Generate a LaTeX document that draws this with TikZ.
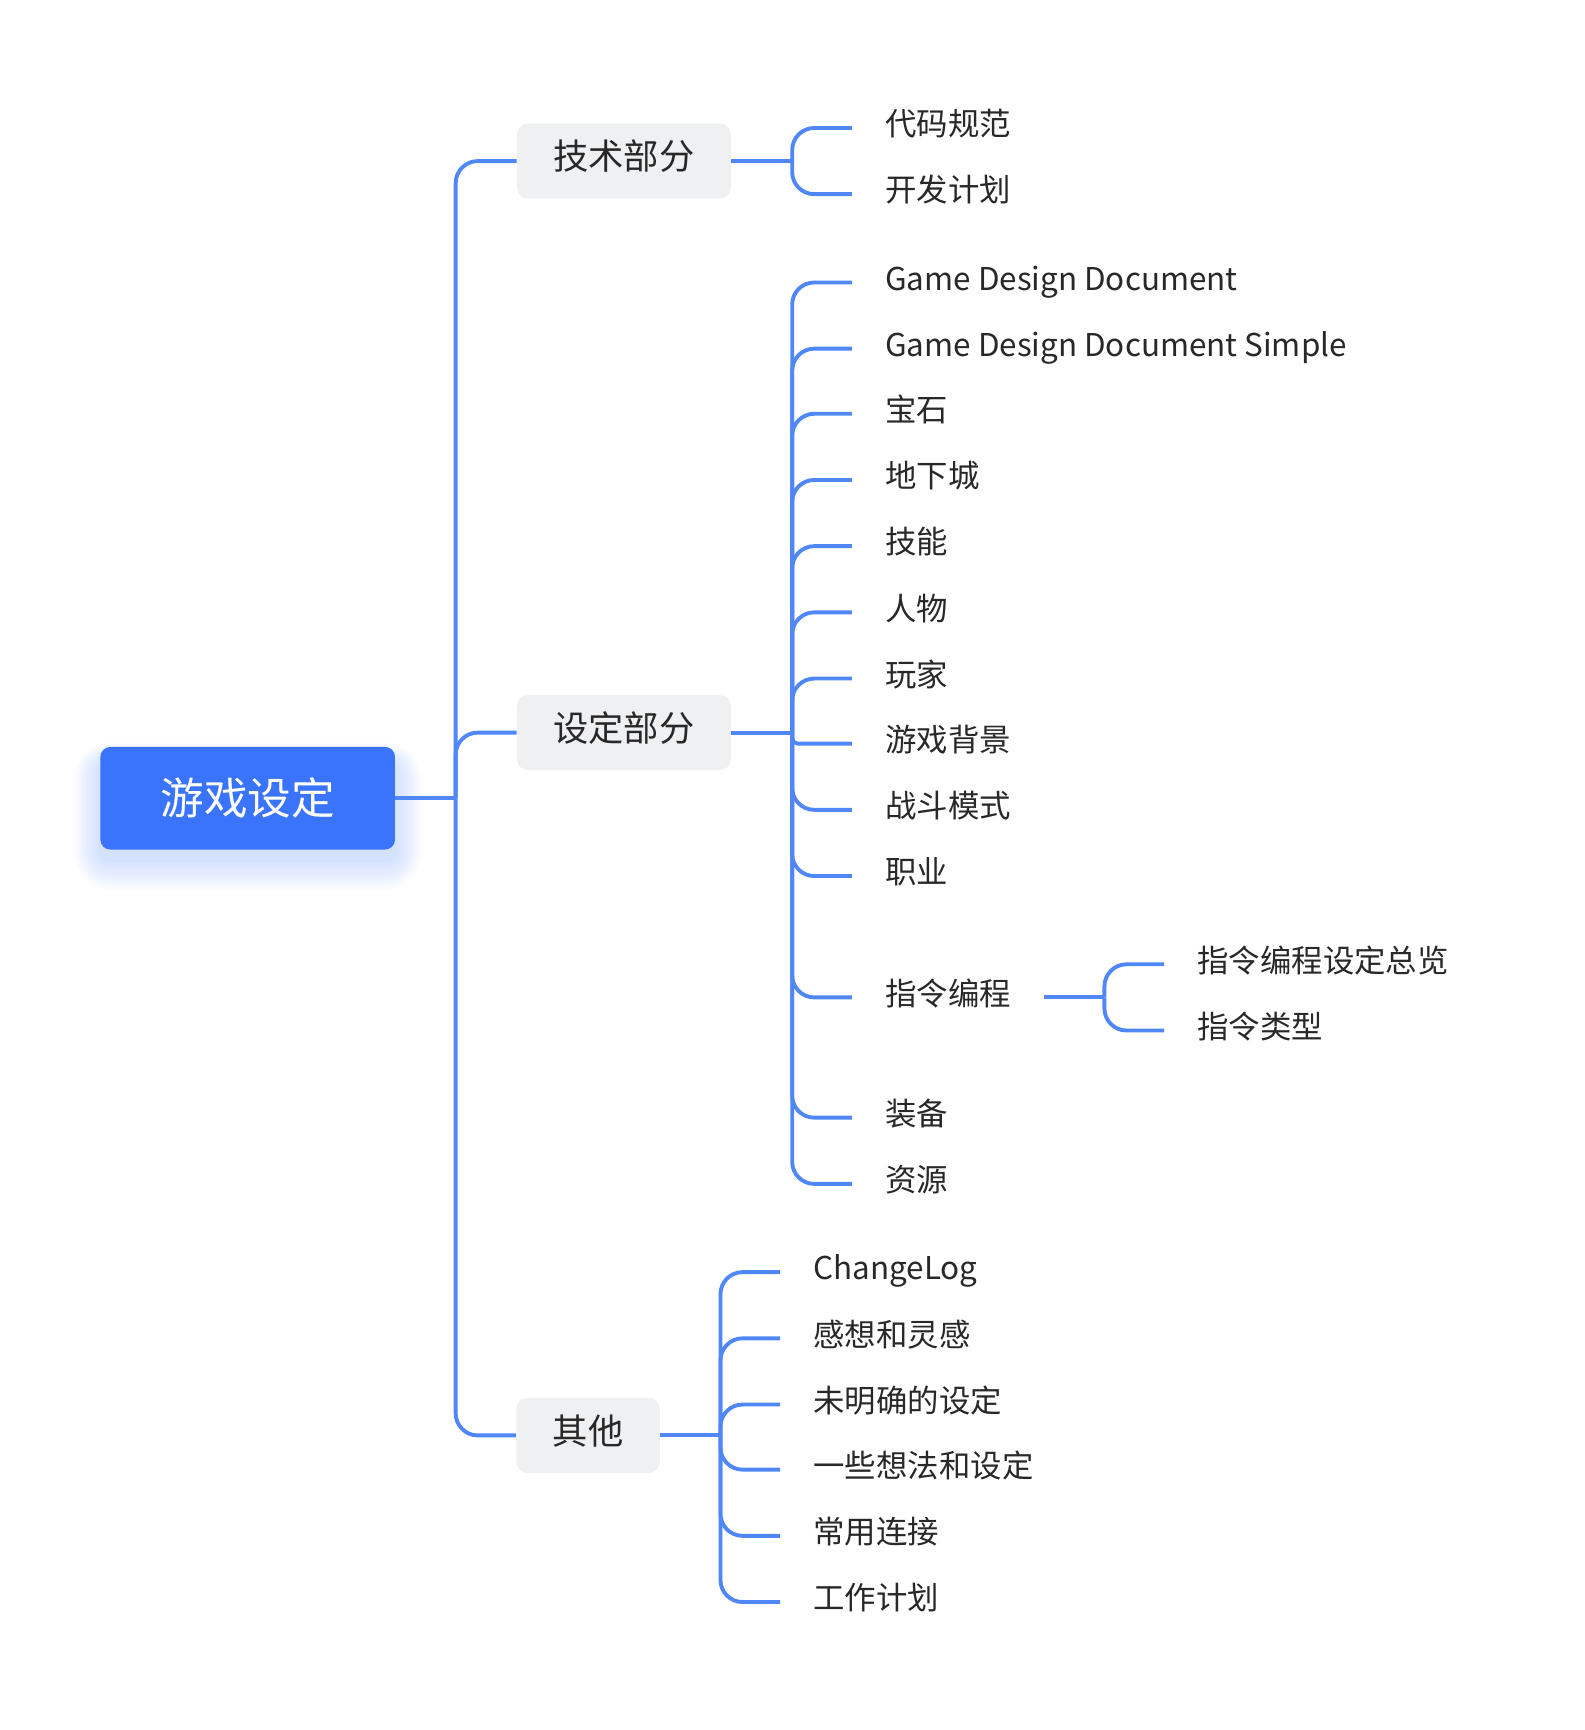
\documentclass[tikz,border=0pt]{standalone}
\usepackage{fontspec}
\setmainfont{Noto Sans CJK SC}
\usetikzlibrary{positioning}

\definecolor{linkblue}{RGB}{80,135,246}
\definecolor{rootblue}{RGB}{59,116,252}
\definecolor{tagfill}{RGB}{239,240,242}
\definecolor{inkgray}{RGB}{40,40,40}

\begin{document}
\begin{tikzpicture}[x=0.2mm, y=-0.2mm,
		rootbox/.style={fill=rootblue, text=white, rounded corners=1.8mm, inner sep=0pt,
			minimum width=5.34cm, minimum height=1.86cm,
			font=\fontsize{22.5pt}{26pt}\selectfont},
		tagbox/.style={fill=tagfill, text=inkgray, rounded corners=2mm, inner xsep=0.66cm, inner ysep=0pt,
			minimum height=1.36cm, text height=0.95em, text depth=0.05em,
			font=\fontsize{18.2pt}{22pt}\selectfont},
		leaf/.style={anchor=west, text=inkgray, inner xsep=0.6cm, inner ysep=0pt,
			text height=0.9em, text depth=0.1em,
			font=\fontsize{16.2pt}{19pt}\selectfont},
		link/.style={draw=linkblue, line width=2pt, rounded corners=4mm}
	]
	\useasboundingbox (0,0) rectangle (1436,1568);

	% soft glow under the root
	\foreach \g in {1,...,12}
		\fill[rootblue, opacity=0.018, rounded corners={1.8mm+\g*0.4mm}]
			({91-2*\g},{691-1.5*\g}) rectangle ({358+2*\g},{780+2.2*\g});

	\node[rootbox] (root) at (224.5,723.5) {游戏设定};

	\node[tagbox] (jishu)   at (565.5, 146) {技术部分};
	\node[tagbox] (sheding) at (565.5, 664) {设定部分};
	\node[tagbox] (qita)    at (533, 1301) {其他};

	\node[leaf] (daima) at (772, 116) {代码规范};
	\node[leaf] (kaifa) at (772, 176) {开发计划};

	\node[leaf] (gdd)       at (772, 256) {Game Design Document};
	\node[leaf] (gdds)      at (772, 316) {Game Design Document Simple};
	\node[leaf] (baoshi)    at (772, 375) {宝石};
	\node[leaf] (dixia)     at (772, 435) {地下城};
	\node[leaf] (jineng)    at (772, 495) {技能};
	\node[leaf] (renwu)     at (772, 555) {人物};
	\node[leaf] (wanjia)    at (772, 615) {玩家};
	\node[leaf] (beijing)   at (772, 674) {游戏背景};
	\node[leaf] (zhandou)   at (772, 734) {战斗模式};
	\node[leaf] (zhiye)     at (772, 794) {职业};
	\node[leaf] (zhiling)   at (772, 904) {指令编程};
	\node[leaf] (zhuangbei) at (772,1013) {装备};
	\node[leaf] (ziyuan)    at (772,1073) {资源};

	\node[leaf] (zonglan) at (1055, 874) {指令编程设定总览};
	\node[leaf] (leixing) at (1055, 934) {指令类型};

	\node[leaf] (changelog)  at (707,1153) {ChangeLog};
	\node[leaf] (ganxiang)   at (707,1213) {感想和灵感};
	\node[leaf] (weimingque) at (707,1273) {未明确的设定};
	\node[leaf] (xiangfa)    at (707,1332) {一些想法和设定};
	\node[leaf] (lianjie)    at (707,1392) {常用连接};
	\node[leaf] (gongzuo)    at (707,1452) {工作计划};

	% branch points
	\draw[link] (root.east) -- (413,723.5) coordinate (t0);
	\draw[link] (jishu.east) -- (718,146) coordinate (t1);
	\draw[link] (sheding.east) -- (718,664) coordinate (t2);
	\draw[link] (qita.east) -- (653,1301) coordinate (t3);
	\draw[link] (zhiling.east) -- (1001,904) coordinate (t4);

	\foreach \c in {jishu, sheding, qita}
		\draw[link] (t0) |- (\c.west);
	\foreach \c in {daima, kaifa}
		\draw[link] (t1) |- (\c.west);
	\foreach \c/\r in {gdd/4mm, gdds/4mm, baoshi/4mm, dixia/4mm, jineng/4mm, renwu/4mm,
			wanjia/4mm, beijing/1mm, zhandou/4mm, zhiye/4mm, zhiling/4mm, zhuangbei/4mm, ziyuan/4mm}
		\draw[link, rounded corners=\r] (t2) |- (\c.west);
	\foreach \c in {zonglan, leixing}
		\draw[link] (t4) |- (\c.west);
	\foreach \c in {changelog, ganxiang, weimingque, xiangfa, lianjie, gongzuo}
		\draw[link] (t3) |- (\c.west);
\end{tikzpicture}
\end{document}
